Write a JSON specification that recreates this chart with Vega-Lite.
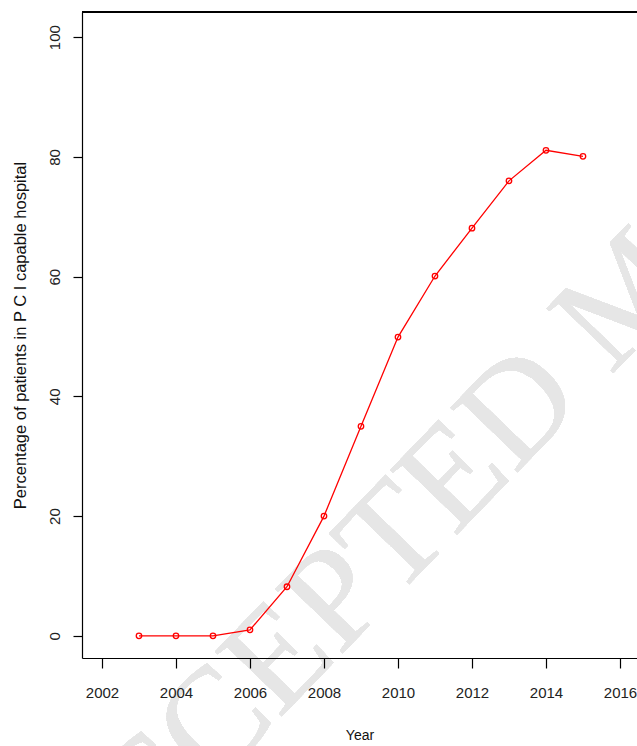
{
  "$schema": "https://vega.github.io/schema/vega-lite/v6.json",
  "autosize": {"type": "none"},
  "width": 555,
  "height": 646,
  "padding": {"left": 82, "top": 12, "right": 0, "bottom": 88},
  "background": "white",
  "config": {
    "view": {"stroke": null},
    "axis": {
      "labelFont": "Liberation Sans",
      "titleFont": "Liberation Sans",
      "labelColor": "#222222",
      "titleColor": "#111111",
      "domainColor": "black",
      "tickColor": "black",
      "domainWidth": 1.2,
      "tickWidth": 1.2,
      "grid": false,
      "titleFontWeight": "normal"
    }
  },
  "data": {
    "values": [
      {"year": 2003, "pct": 0},
      {"year": 2004, "pct": 0},
      {"year": 2005, "pct": 0},
      {"year": 2006, "pct": 1},
      {"year": 2007, "pct": 8.2},
      {"year": 2008, "pct": 20},
      {"year": 2009, "pct": 35},
      {"year": 2010, "pct": 49.9},
      {"year": 2011, "pct": 60.1},
      {"year": 2012, "pct": 68.1},
      {"year": 2013, "pct": 76},
      {"year": 2014, "pct": 81.1},
      {"year": 2015, "pct": 80.1}
    ]
  },
  "layer": [
    {
      "mark": {"type": "text", "text": "ACCEPTED MANUSCRIPT", "font": "Liberation Serif", "fontSize": 142, "color": "#e6e6e6", "angle": -46, "align": "left", "baseline": "alphabetic"},
      "encoding": {
        "x": {"datum": 2001.3, "type": "quantitative"},
        "y": {"datum": -49, "type": "quantitative"}
      }
    },
    {
      "mark": {"type": "rule", "color": "black", "strokeWidth": 1.2},
      "encoding": {
        "y": {"datum": 104.2, "type": "quantitative"}
      }
    },
    {
      "mark": {"type": "line", "color": "#ff0000", "strokeWidth": 1.3},
      "encoding": {
        "x": {
          "field": "year", "type": "quantitative",
          "scale": {"domain": [2001.46, 2016.46], "zero": false, "nice": false},
          "axis": {
            "orient": "bottom",
            "zindex": 2,
            "title": "Year",
            "values": [2002, 2004, 2006, 2008, 2010, 2012, 2014, 2016],
            "format": "d",
            "tickSize": 10,
            "labelFontSize": 15,
            "labelPadding": 17,
            "labelFlush": false,
            "labelOverlap": false,
            "titleFontSize": 14,
            "titlePadding": 28
          }
        },
        "y": {
          "field": "pct", "type": "quantitative",
          "scale": {"domain": [-3.7, 104.2], "zero": false, "nice": false},
          "axis": {
            "orient": "left",
            "zindex": 2,
            "title": "Percentage of patients in P C I capable hospital",
            "values": [0, 20, 40, 60, 80, 100],
            "tickSize": 9,
            "labelAngle": -90,
            "labelAlign": "center",
            "labelBaseline": "bottom",
            "labelFontSize": 15,
            "labelPadding": 11,
            "labelFlush": false,
            "labelOverlap": false,
            "titleFontSize": 16.5,
            "titlePadding": 19
          }
        }
      }
    },
    {
      "mark": {"type": "point", "color": "#ff0000", "filled": false, "size": 30, "strokeWidth": 1.3, "opacity": 1},
      "encoding": {
        "x": {"field": "year", "type": "quantitative"},
        "y": {"field": "pct", "type": "quantitative"}
      }
    }
  ]
}
